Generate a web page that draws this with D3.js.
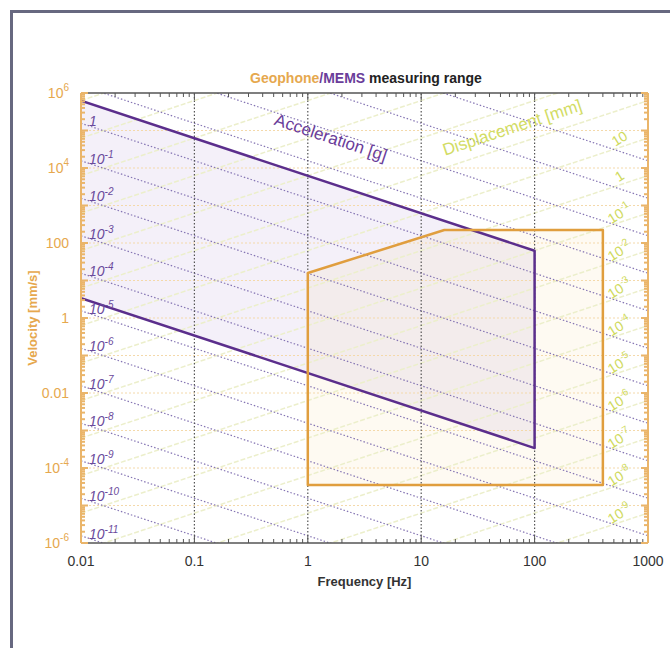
<!DOCTYPE html>
<html>
<head>
<meta charset="utf-8">
<script src="https://cdn.jsdelivr.net/npm/d3@7"></script>
<style>
  body { margin: 0; background: #ffffff; }
  svg { display: block; font-family: "Liberation Sans", Arial, sans-serif; }
</style>
</head>
<body>
<div id="chart"></div>
<script>
// Geophone / MEMS measuring range, velocity vs frequency (log-log)

const xTicks = [0.01, 0.1, 1, 10, 100, 1000];
const yTicks = [1e6, 1e4, 100, 1, 0.01, 1e-4, 1e-6];
const yTickLabels = [["10", "6"], ["10", "4"], ["100", ""], ["1", ""], ["0.01", ""], ["10", "-4"], ["10", "-6"]];

// iso-acceleration lines [g] and their labels (exponents)
const accelLevels = [1e4, 1e3, 100, 10, 1, 1e-1, 1e-2, 1e-3, 1e-4, 1e-5, 1e-6, 1e-7, 1e-8, 1e-9, 1e-10, 1e-11];
const accelLabelExp = [0, -1, -2, -3, -4, -5, -6, -7, -8, -9, -10, -11];

// iso-displacement lines [mm] and their labels (exponents)
const dispLevels = [1e7, 1e6, 1e5, 1e4, 1e3, 100, 10, 1, 1e-1, 1e-2, 1e-3, 1e-4, 1e-5, 1e-6, 1e-7, 1e-8, 1e-9];
const dispLabelExp = [1, 0, -1, -2, -3, -4, -5, -6, -7, -8, -9];

// MEMS band (velocity mm/s)
const memsFreq = [0.01, 100, 100, 0.01];
const memsVel = [6.2e5, 62, 3.4e-4, 3.4];

// Geophone polygon
const geoFreq = [1, 16, 400, 400, 1];
const geoVel = [15.8, 222, 222, 3.5e-5, 3.5e-5];

const W = 670, H = 648;
const margin = {left: 81, right: 22, top: 93, bottom: 105};

const svg = d3.select("#chart").append("svg")
    .attr("width", W).attr("height", H);

// outer frame
svg.append("path")
    .attr("d", "M11.5,648 L11.5,11.5 L670,11.5")
    .attr("fill", "none").attr("stroke", "#676880").attr("stroke-width", 3);

const x = d3.scaleLog().domain([0.01, 1000]).range([margin.left, W - margin.right]);
const y = d3.scaleLog().domain([1e-6, 1e6]).range([H - margin.bottom, margin.top]);

const G = 9810; // mm/s^2
const velFromAccel = (a, f) => a * G / (2 * Math.PI * f);
const velFromDisp = (d, f) => 2 * Math.PI * f * d;

svg.append("clipPath").attr("id", "plotClip")
  .append("rect")
    .attr("x", x.range()[0]).attr("y", y.range()[1])
    .attr("width", x.range()[1] - x.range()[0])
    .attr("height", y.range()[0] - y.range()[1]);

const plot = svg.append("g").attr("clip-path", "url(#plotClip)");

// fills
plot.append("path")
    .attr("d", d3.line()(memsFreq.map((f, i) => [x(f), y(memsVel[i])])) + "Z")
    .attr("fill", "rgba(150,105,195,0.10)");
plot.append("path")
    .attr("d", d3.line()(geoFreq.map((f, i) => [x(f), y(geoVel[i])])) + "Z")
    .attr("fill", "rgba(245,190,90,0.08)");

// horizontal grid (orange dotted)
const yDecades = d3.range(-5, 6).map(e => Math.pow(10, e));
plot.selectAll(".hgrid").data(yDecades).enter().append("line")
    .attr("x1", x.range()[0]).attr("x2", x.range()[1])
    .attr("y1", d => y(d)).attr("y2", d => y(d))
    .attr("stroke", "#f4d9aa").attr("stroke-width", 1)
    .attr("stroke-dasharray", "2,2");

// displacement lines
plot.selectAll(".disp").data(dispLevels).enter().append("line")
    .attr("x1", x(0.01)).attr("y1", d => y(velFromDisp(d, 0.01)))
    .attr("x2", x(1000)).attr("y2", d => y(velFromDisp(d, 1000)))
    .attr("stroke", "#ecefcb").attr("stroke-width", 1.5)
    .attr("stroke-dasharray", "5,2");

// acceleration lines
plot.selectAll(".acc").data(accelLevels).enter().append("line")
    .attr("x1", x(0.01)).attr("y1", d => y(velFromAccel(d, 0.01)))
    .attr("x2", x(1000)).attr("y2", d => y(velFromAccel(d, 1000)))
    .attr("stroke", "#8676b4").attr("stroke-width", 1.2)
    .attr("stroke-dasharray", "1.5,2");

// vertical grid (dark dotted)
plot.selectAll(".vgrid").data(xTicks.slice(1, -1)).enter().append("line")
    .attr("x1", d => x(d)).attr("x2", d => x(d))
    .attr("y1", y.range()[0]).attr("y2", y.range()[1])
    .attr("stroke", "#555").attr("stroke-width", 1.2)
    .attr("stroke-dasharray", "1.5,2");

// MEMS outline (open at left)
plot.append("path")
    .attr("d", d3.line()(memsFreq.map((f, i) => [x(f), y(memsVel[i])])))
    .attr("fill", "none").attr("stroke", "#5b2e8c").attr("stroke-width", 2.5)
    .attr("stroke-linejoin", "round");

// Geophone outline
plot.append("path")
    .attr("d", d3.line()(geoFreq.map((f, i) => [x(f), y(geoVel[i])])) + "Z")
    .attr("fill", "none").attr("stroke", "#e09e3e").attr("stroke-width", 2.5)
    .attr("stroke-linejoin", "round");

// axes
const xMinor = [];
for (let e = -2; e < 3; e++) for (let k = 1; k < 10; k++) xMinor.push(k * Math.pow(10, e));
xMinor.push(1000);
const yMinor = [];
for (let e = -6; e < 6; e++) for (let k = 1; k < 10; k++) yMinor.push(k * Math.pow(10, e));
yMinor.push(1e6);

const axisFrame = svg.append("g");
[["bottom", y.range()[0], 1], ["top", y.range()[1], -1]].forEach(([name, yy, dir]) => {
  axisFrame.append("line")
    .attr("x1", x.range()[0]).attr("x2", x.range()[1])
    .attr("y1", yy).attr("y2", yy)
    .attr("stroke", "#555").attr("stroke-width", 1.5);
  axisFrame.selectAll(".xt" + name).data(xMinor).enter().append("line")
    .attr("x1", d => x(d)).attr("x2", d => x(d))
    .attr("y1", yy).attr("y2", d => yy - dir * (xTicks.includes(d) ? 7 : 4))
    .attr("stroke", "#555").attr("stroke-width", 1);
});
[["left", x.range()[0], 1], ["right", x.range()[1], -1]].forEach(([name, xx, dir]) => {
  axisFrame.append("line")
    .attr("x1", xx).attr("x2", xx)
    .attr("y1", y.range()[0]).attr("y2", y.range()[1])
    .attr("stroke", "#eab56a").attr("stroke-width", 2);
  axisFrame.selectAll(".yt" + name).data(yMinor).enter().append("line")
    .attr("y1", d => y(d)).attr("y2", d => y(d))
    .attr("x1", xx).attr("x2", d => xx + dir * (Number.isInteger(Math.log10(d)) ? 7 : 4))
    .attr("stroke", "#eab56a").attr("stroke-width", 2);
});

// x tick labels
svg.selectAll(".xl").data(xTicks).enter().append("text")
    .attr("x", d => x(d)).attr("y", y.range()[0] + 23)
    .attr("text-anchor", "middle")
    .attr("font-size", 14).attr("fill", "#333")
    .text(d => d);

svg.append("text")
    .attr("x", (x.range()[0] + x.range()[1]) / 2).attr("y", y.range()[0] + 43)
    .attr("text-anchor", "middle")
    .attr("font-size", 13).attr("font-weight", "bold").attr("fill", "#333")
    .text("Frequency [Hz]");

// y tick labels
const yl = svg.selectAll(".yl").data(yTicks).enter().append("text")
    .attr("x", x.range()[0] - 12).attr("y", d => y(d) + 5)
    .attr("text-anchor", "end")
    .attr("font-size", 14).attr("fill", "#e6a84e");
yl.each(function(d, i) {
  const t = d3.select(this);
  const [base, sup] = yTickLabels[i];
  t.append("tspan").text(base);
  if (sup) t.append("tspan").attr("dy", -7).attr("font-size", 10).text(sup);
});

svg.append("text")
    .attr("transform", `translate(37,${(y.range()[0] + y.range()[1]) / 2}) rotate(-90)`)
    .attr("text-anchor", "middle")
    .attr("font-size", 13).attr("font-weight", "bold").attr("fill", "#e6a84e")
    .text("Velocity [mm/s]");

// title
const title = svg.append("text")
    .attr("x", 366).attr("y", 83)
    .attr("text-anchor", "middle")
    .attr("font-size", 14).attr("font-weight", "bold");
title.append("tspan").attr("fill", "#e6a84e").text("Geophone");
title.append("tspan").attr("fill", "#6a3d9a").text("/MEMS");
title.append("tspan").attr("fill", "#222").text(" measuring range");

// acceleration labels
const angle = Math.atan2(y(1) - y(10), x(10) - x(1)) * 180 / Math.PI;
accelLabelExp.forEach(e => {
  const t = svg.append("text")
      .attr("x", x.range()[0] + 8)
      .attr("y", y(velFromAccel(Math.pow(10, e), 0.01)) + 3)
      .attr("font-size", 14).attr("font-style", "italic")
      .attr("fill", "#6a4a9c");
  if (e === 0) t.append("tspan").text("1");
  else {
    t.append("tspan").text("10");
    t.append("tspan").attr("dy", -6).attr("font-size", 10).text(e);
  }
});

// displacement labels
const xLab = 622;
dispLabelExp.forEach(e => {
  const f = x.invert(xLab);
  const yy = y(velFromDisp(Math.pow(10, e), f)) - 4;
  const t = svg.append("text")
      .attr("transform", `translate(${xLab},${yy}) rotate(-32)`)
      .attr("text-anchor", "middle")
      .attr("font-size", 14)
      .attr("fill", "#cfda5e");
  if (e === 0) t.append("tspan").text("1");
  else if (e === 1) t.append("tspan").text("10");
  else {
    t.append("tspan").text("10");
    t.append("tspan").attr("dy", -6).attr("font-size", 10).text(e);
  }
});

svg.append("text")
    .attr("transform", `translate(329,143) rotate(${angle})`)
    .attr("text-anchor", "middle")
    .attr("font-size", 17).attr("fill", "#6a3d9a")
    .text("Acceleration [g]");

svg.append("text")
    .attr("transform", `translate(514,133) rotate(${-angle})`)
    .attr("text-anchor", "middle")
    .attr("font-size", 17).attr("fill", "#d2dc64")
    .text("Displacement [mm]");
</script>
</body>
</html>
